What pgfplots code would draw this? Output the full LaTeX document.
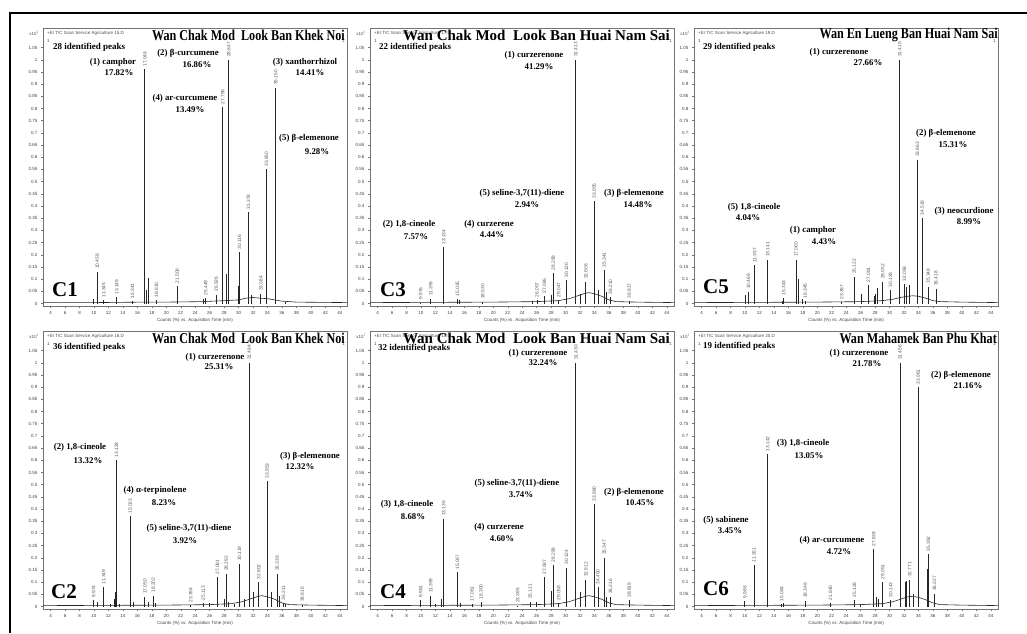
\documentclass[border=0pt]{standalone}
\usepackage{fontspec}
\setmainfont{Liberation Serif}
\setsansfont{Liberation Sans}
\usepackage{graphicx}
\usepackage{pgfplots}
\pgfplotsset{compat=1.18}

\pgfplotsset{
  chrom/.style={
    scale only axis, width=304pt, height=278pt,
    xmin=2.95, xmax=45, ymin=-0.01, ymax=1.13,
    xtick={4,6,...,44},
    ytick={0,0.05,0.1,0.15,0.2,0.25,0.3,0.35,0.4,0.45,0.5,0.55,0.6,0.65,0.7,0.75,0.8,0.85,0.9,0.95,1,1.05},
    axis line style={black!55, line width=0.7pt},
    tick style={black!55, line width=0.4pt}, tick align=outside, major tick length=2pt,
    xtick pos=bottom, ytick pos=left,
    ticklabel style={font=\fontsize{4.5}{5}\sffamily, text=black!75},
    /pgf/number format/assume math mode=true,
    yticklabel style={/pgf/number format/fixed, /pgf/number format/precision=2},
    scaled y ticks=false, scaled x ticks=false,
    xlabel={Counts (\%) vs. Acquisition Time (min)},
    xlabel style={font=\fontsize{4.5}{5}\sffamily, text=black!75, yshift=3pt},
    anchor=north west,
    clip=false,
  },
  pk/.style={ycomb, black!85, line width=0.9pt, mark=none},
  pkl/.style={ycomb, black!85, line width=0.9pt, mark=none,
    nodes near coords={\pgfplotspointmeta}, point meta=explicit symbolic,
    nodes near coords style={font=\fontsize{4.8}{5}\sffamily, text=black!65, rotate=90, anchor=west, inner xsep=2.5pt, inner ysep=0pt}},
  bl/.style={black!85, line width=0.6pt, mark=none},
}
\tikzset{
 ann/.style={font=\fontsize{8.8}{9}\selectfont\bfseries, inner sep=0pt},
 ttl/.style={font=\fontsize{15}{16}\selectfont\bfseries, inner sep=0pt, anchor=east},
 cid/.style={font=\fontsize{21}{22}\selectfont\bfseries, inner sep=0pt},
 npk/.style={font=\fontsize{9}{10}\selectfont\bfseries, inner sep=0pt, anchor=west},
 tny/.style={font=\fontsize{4.5}{5}\sffamily, text=black!70, inner sep=0pt},
}

\begin{document}
\begin{tikzpicture}
\useasboundingbox (0,0) rectangle (1027pt,-633pt);
\draw[line width=2pt] (10pt,-633pt) -- (10pt,-13pt) -- (1027pt,-13pt);

% ---------------- C1 ----------------
\begin{axis}[chrom, at={(43pt,-28pt)}]
\addplot[bl] coordinates {(2.95,0.004)(10,0.004)(17,0.006)(20,0.006)(25,0.008)(28,0.012)(30,0.015)(31,0.022)(32,0.025)(33,0.022)(34,0.02)(35,0.015)(36,0.01)(38,0.006)(45,0.004)};
\addplot[pk] table[row sep=\\] {x y\\ 9.9 0.02\\ 17.3 0.055\\ 17.5 0.105\\ 25.2 0.02\\ 28.3 0.12\\ 30.0 0.072\\ 31.8 0.035\\ 36.5 0.007\\};
\addplot[pkl] table[row sep=\\, meta=l] {x y l\\ 10.458 0.13 10.458\\ 11.345 0.014 11.345\\ 13.149 0.025 13.149\\ 15.341 0.01 15.341\\ 17.048 0.96 17.048\\ 18.630 0.014 18.630\\ 21.508 0.072 21.508\\ 25.449 0.023 25.449\\ 26.926 0.037 26.926\\ 27.796 0.805 27.796\\ 28.647 1.0 28.647\\ 30.116 0.21 30.116\\ 31.378 0.375 31.378\\ 33.084 0.04 33.084\\ 33.850 0.55 33.850\\ 35.150 0.885 35.150\\};
\end{axis}

% ---------------- C3 ----------------
\begin{axis}[chrom, at={(370pt,-28pt)}]
\addplot[bl] coordinates {(2.95,0.004)(12,0.005)(20,0.006)(26,0.008)(29,0.012)(30.5,0.02)(31.5,0.03)(32.5,0.04)(33.2,0.045)(34,0.04)(35,0.03)(36,0.015)(37,0.008)(40,0.006)(45,0.004)};
\addplot[pk] table[row sep=\\] {x y\\ 15.3 0.014\\ 25.4 0.01\\ 28.0 0.035\\ 32.0 0.04\\ 34.5 0.055\\ 35.6 0.048\\};
\addplot[pkl] table[row sep=\\, meta=l] {x y l\\ 9.976 0.004 9.976\\ 11.355 0.02 11.355\\ 13.134 0.23 13.134\\ 15.035 0.018 15.035\\ 18.530 0.007 18.530\\ 26.057 0.014 26.057\\ 27.085 0.03 27.085\\ 28.298 0.125 28.298\\ 29.047 0.014 29.047\\ 30.120 0.095 30.120\\ 31.413 1.0 31.413\\ 32.808 0.09 32.808\\ 33.955 0.42 33.955\\ 35.341 0.137 35.341\\ 36.210 0.027 36.210\\ 38.817 0.01 38.817\\};
\end{axis}

% ---------------- C5 ----------------
\begin{axis}[chrom, at={(694pt,-28pt)}]
\addplot[bl] coordinates {(2.95,0.004)(12,0.005)(20,0.006)(26,0.008)(29,0.012)(30.5,0.018)(31.5,0.025)(32.5,0.03)(33.2,0.032)(34,0.03)(35,0.022)(36,0.012)(37,0.008)(40,0.006)(45,0.004)};
\addplot[pk] table[row sep=\\] {x y\\ 10.1 0.037\\ 15.2 0.01\\ 17.4 0.10\\ 17.9 0.02\\ 26.1 0.04\\ 27.9 0.03\\ 28.1 0.04\\ 28.3 0.065\\ 32.4 0.07\\ 32.7 0.075\\};
\addplot[pkl] table[row sep=\\, meta=l] {x y l\\ 10.469 0.048 10.469\\ 11.357 0.157 11.357\\ 13.141 0.18 13.141\\ 15.343 0.023 15.343\\ 17.060 0.18 17.060\\ 18.345 0.01 18.345\\ 23.367 0.005 23.367\\ 25.122 0.11 25.122\\ 27.081 0.075 27.081\\ 29.052 0.09 29.052\\ 30.128 0.055 30.128\\ 31.415 1.0 31.415\\ 32.059 0.08 32.059\\ 33.863 0.59 33.863\\ 34.518 0.35 34.518\\ 35.348 0.07 35.348\\ 36.418 0.06 36.418\\};
\end{axis}

% ---------------- C2 ----------------
\begin{axis}[chrom, at={(43pt,-331pt)}]
\addplot[bl] coordinates {(2.95,0.004)(12,0.005)(20,0.006)(26,0.008)(29,0.012)(30.5,0.02)(31.5,0.03)(32.5,0.04)(33.2,0.045)(34,0.04)(35,0.03)(36,0.015)(37,0.008)(40,0.006)(45,0.004)};
\addplot[pk] table[row sep=\\] {x y\\ 10.5 0.02\\ 12.3 0.01\\ 12.8 0.03\\ 13.0 0.06\\ 13.5 0.01\\ 15.4 0.02\\ 17.5 0.02\\ 18.5 0.015\\ 26.0 0.015\\ 28.0 0.03\\ 28.6 0.02\\ 29.5 0.01\\ 30.8 0.03\\ 32.0 0.06\\ 34.5 0.06\\ 35.6 0.045\\ 36.5 0.01\\};
\addplot[pkl] table[row sep=\\, meta=l] {x y l\\ 9.974 0.025 9.974\\ 11.349 0.08 11.349\\ 13.128 0.60 13.128\\ 15.023 0.37 15.023\\ 17.050 0.04 17.050\\ 18.202 0.045 18.202\\ 23.394 0.005 23.394\\ 25.113 0.014 25.113\\ 27.081 0.12 27.081\\ 28.292 0.135 28.292\\ 30.119 0.175 30.119\\ 31.484 1.0 31.484\\ 32.802 0.10 32.802\\ 33.953 0.515 33.953\\ 35.339 0.135 35.339\\ 36.211 0.014 36.211\\ 38.816 0.008 38.816\\};
\end{axis}

% ---------------- C4 ----------------
\begin{axis}[chrom, at={(370pt,-331pt)}]
\addplot[bl] coordinates {(2.95,0.004)(12,0.005)(20,0.006)(26,0.008)(29,0.012)(30.5,0.02)(31.5,0.03)(32.5,0.04)(33.2,0.045)(34,0.04)(35,0.03)(36,0.015)(37,0.008)(40,0.006)(45,0.004)};
\addplot[pk] table[row sep=\\] {x y\\ 12.0 0.01\\ 12.8 0.03\\ 15.4 0.015\\ 26.0 0.02\\ 28.0 0.065\\ 32.1 0.06\\ 35.6 0.04\\};
\addplot[pkl] table[row sep=\\, meta=l] {x y l\\ 9.981 0.025 9.981\\ 11.359 0.045 11.359\\ 13.135 0.36 13.135\\ 15.037 0.14 15.037\\ 17.061 0.01 17.061\\ 18.300 0.018 18.300\\ 23.385 0.003 23.385\\ 25.121 0.02 25.121\\ 27.087 0.12 27.087\\ 28.298 0.17 28.298\\ 29.058 0.013 29.058\\ 30.124 0.16 30.124\\ 31.430 1.0 31.430\\ 32.812 0.11 32.812\\ 33.980 0.42 33.980\\ 34.490 0.08 34.490\\ 35.347 0.20 35.347\\ 36.216 0.04 36.216\\ 38.819 0.025 38.819\\};
\end{axis}

% ---------------- C6 ----------------
\begin{axis}[chrom, at={(694pt,-331pt)}]
\addplot[bl] coordinates {(2.95,0.004)(12,0.005)(20,0.006)(26,0.008)(29,0.012)(30.5,0.02)(31.5,0.03)(32.5,0.04)(33.2,0.042)(34,0.038)(35,0.028)(36,0.015)(37,0.008)(40,0.006)(45,0.004)};
\addplot[pk] table[row sep=\\] {x y\\ 15.3 0.014\\ 26.0 0.01\\ 28.2 0.04\\ 28.5 0.03\\ 32.2 0.10\\ 32.4 0.105\\ 33.3 0.05\\ 35.3 0.155\\};
\addplot[pkl] table[row sep=\\, meta=l] {x y l\\ 9.988 0.022 9.988\\ 11.261 0.17 11.261\\ 13.142 0.625 13.142\\ 15.084 0.01 15.084\\ 18.348 0.024 18.348\\ 21.840 0.014 21.840\\ 25.128 0.027 25.128\\ 27.803 0.235 27.803\\ 29.051 0.10 29.051\\ 30.143 0.027 30.143\\ 31.456 1.0 31.456\\ 32.771 0.11 32.771\\ 33.961 0.90 33.961\\ 35.392 0.215 35.392\\ 36.227 0.052 36.227\\};
\end{axis}

% ---------- small header texts ----------
\foreach \fx/\fy/\fn in {43/28/15, 370/28/17, 694/28/19, 43/331/16, 370/331/18, 694/331/20}{
  \node[tny, anchor=west] at ({(\fx+4)*1pt},{-(\fy+5)*1pt}) {+EI TIC Scan Service Agriculture \fn.D};
  \node[tny, anchor=west] at ({(\fx+4)*1pt},{-(\fy+13)*1pt}) {1};
  \node[tny, anchor=east] at ({(\fx+302)*1pt},{-(\fy+13)*1pt}) {1};
  \node[tny, anchor=east] at ({(\fx-4)*1pt},{-(\fy+5)*1pt}) {x10\textsuperscript{7}};
}

% ---------- titles ----------
\node[ttl] at (345pt,-35pt) {\scalebox{0.81}[1]{Wan Chak Mod\ \ Look Ban Khek Noi}};
\node[ttl] at (670pt,-35pt) {Wan Chak Mod\ \ Look Ban Huai Nam Sai};
\node[ttl] at (998pt,-35pt) {\scalebox{0.81}[1]{Wan En Lueng Ban Huai Nam Sai}};
\node[ttl] at (345pt,-338pt) {\scalebox{0.81}[1]{Wan Chak Mod\ \ Look Ban Khek Noi}};
\node[ttl] at (670pt,-338pt) {Wan Chak Mod\ \ Look Ban Huai Nam Sai};
\node[ttl] at (997pt,-338pt) {\scalebox{0.81}[1]{Wan Mahamek Ban Phu Khat}};

% ---------- identified peaks ----------
\node[npk] at (53pt,-47pt) {28 identified peaks};
\node[npk] at (379pt,-47pt) {22 identified peaks};
\node[npk] at (703pt,-47pt) {29 identified peaks};
\node[npk] at (53pt,-347pt) {36 identified peaks};
\node[npk] at (378pt,-348pt) {32 identified peaks};
\node[npk] at (703pt,-346pt) {19 identified peaks};

% ---------- panel ids ----------
\node[cid] at (65pt,-290pt) {C1};
\node[cid] at (393pt,-290pt) {C3};
\node[cid] at (716pt,-287pt) {C5};
\node[cid] at (64pt,-592pt) {C2};
\node[cid] at (393pt,-592pt) {C4};
\node[cid] at (716pt,-589pt) {C6};

% ---------- C1 annotations ----------
\node[ann] at (113pt,-62pt) {(1) camphor};
\node[ann] at (119pt,-73pt) {17.82\%};
\node[ann] at (188pt,-53pt) {(2) β-curcumene};
\node[ann] at (197pt,-65pt) {16.86\%};
\node[ann] at (185pt,-98pt) {(4) ar-curcumene};
\node[ann] at (190pt,-110pt) {13.49\%};
\node[ann] at (305pt,-62pt) {(3) xanthorrhizol};
\node[ann] at (310pt,-73pt) {14.41\%};
\node[ann] at (309pt,-138pt) {(5) β-elemenone};
\node[ann] at (317pt,-152pt) {9.28\%};

% ---------- C3 annotations ----------
\node[ann] at (534pt,-55pt) {(1) curzerenone};
\node[ann] at (539pt,-67pt) {41.29\%};
\node[ann] at (522pt,-193pt) {(5) seline-3,7(11)-diene};
\node[ann] at (527pt,-205pt) {2.94\%};
\node[ann] at (634pt,-193pt) {(3) β-elemenone};
\node[ann] at (638pt,-205pt) {14.48\%};
\node[ann] at (409pt,-224pt) {(2) 1,8-cineole};
\node[ann] at (416pt,-237pt) {7.57\%};
\node[ann] at (489pt,-224pt) {(4) curzerene};
\node[ann] at (492pt,-235pt) {4.44\%};

% ---------- C5 annotations ----------
\node[ann] at (839pt,-52pt) {(1) curzerenone};
\node[ann] at (868pt,-63pt) {27.66\%};
\node[ann] at (946pt,-133pt) {(2) β-elemenone};
\node[ann] at (953pt,-145pt) {15.31\%};
\node[ann] at (964pt,-211pt) {(3) neocurdione};
\node[ann] at (969pt,-222pt) {8.99\%};
\node[ann] at (754pt,-207pt) {(5) 1,8-cineole};
\node[ann] at (748pt,-218pt) {4.04\%};
\node[ann] at (813pt,-230pt) {(1) camphor};
\node[ann] at (824pt,-242pt) {4.43\%};

% ---------- C2 annotations ----------
\node[ann] at (215pt,-357pt) {(1) curzerenone};
\node[ann] at (219pt,-367pt) {25.31\%};
\node[ann] at (80pt,-447pt) {(2) 1,8-cineole};
\node[ann] at (88pt,-461pt) {13.32\%};
\node[ann] at (155pt,-490pt) {(4) α-terpinolene};
\node[ann] at (164pt,-503pt) {8.23\%};
\node[ann] at (189pt,-528pt) {(5) seline-3,7(11)-diene};
\node[ann] at (185pt,-541pt) {3.92\%};
\node[ann] at (310pt,-456pt) {(3) β-elemenone};
\node[ann] at (300pt,-467pt) {12.32\%};

% ---------- C4 annotations ----------
\node[ann] at (538pt,-353pt) {(1) curzerenone};
\node[ann] at (543pt,-363pt) {32.24\%};
\node[ann] at (517pt,-483pt) {(5) seline-3,7(11)-diene};
\node[ann] at (521pt,-495pt) {3.74\%};
\node[ann] at (634pt,-492pt) {(2) β-elemenone};
\node[ann] at (640pt,-503pt) {10.45\%};
\node[ann] at (407pt,-504pt) {(3) 1,8-cineole};
\node[ann] at (413pt,-517pt) {8.68\%};
\node[ann] at (499pt,-527pt) {(4) curzerene};
\node[ann] at (502pt,-539pt) {4.60\%};

% ---------- C6 annotations ----------
\node[ann] at (859pt,-353pt) {(1) curzerenone};
\node[ann] at (867pt,-364pt) {21.78\%};
\node[ann] at (961pt,-375pt) {(2) β-elemenone};
\node[ann] at (968pt,-386pt) {21.16\%};
\node[ann] at (803pt,-443pt) {(3) 1,8-cineole};
\node[ann] at (809pt,-456pt) {13.05\%};
\node[ann] at (726pt,-520pt) {(5) sabinene};
\node[ann] at (730pt,-531pt) {3.45\%};
\node[ann] at (832pt,-540pt) {(4) ar-curcumene};
\node[ann] at (839pt,-552pt) {4.72\%};
\end{tikzpicture}
\end{document}
